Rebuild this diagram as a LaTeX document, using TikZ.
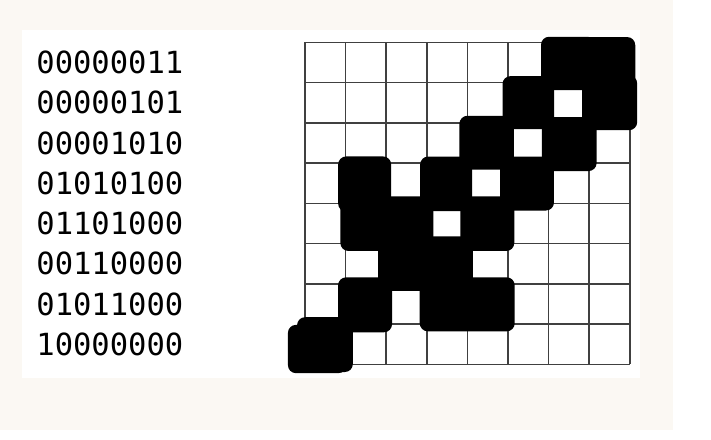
\documentclass[tikz,border=0pt]{standalone}
\usepackage{fontspec}
\usepackage{tikz}
\newfontfamily\bitsfont{DejaVu Sans Mono}
\definecolor{paper}{RGB}{251,248,243}
\tikzset{
  blob/.style={fill=black,rounded corners=8pt},
  bits/.style={anchor=west,inner sep=0pt,font=\bitsfont\fontsize{30.5}{30.5}\selectfont}
}

\begin{document}
\begin{tikzpicture}[x=40.6pt,y=40.25pt]
    \pgfmathsetseed{11}
    \useasboundingbox (-7.512,-1.878) rectangle (10,9.051);
    % paper and card
    \fill[paper] (-7.512,-1.630) rectangle (9.064,9.051);
    \fill[white] (-6.970,-0.340) rectangle (8.251,8.305);
    % rows of the matrix
    \foreach \bits [count=\i from 0] in {00000011,00000101,00001010,01010100,01101000,00110000,01011000,10000000} {
      \node[bits] (row\i) at (-6.62,7.5-\i) {\bits};
    }
    % grid
    \draw[step=1,black!75,line width=1.5pt] (0,0) grid (8,8);
    % scribbled cells (column/row from the top)
    \foreach \c/\r in {6/0,7/0,5/1,7/1,4/2,6/2,1/3,3/3,5/3,1/4,2/4,4/4,2/5,3/5,1/6,3/6,4/6,0/7} {
      \pgfmathsetmacro{\dl}{0.16+0.04*rand}
      \pgfmathsetmacro{\dr}{0.15+0.04*rand}
      \pgfmathsetmacro{\db}{0.17+0.04*rand}
      \pgfmathsetmacro{\dt}{0.15+0.04*rand}
      \fill[blob] (\c-\dl,7-\r-\db) rectangle (\c+1+\dr,8-\r+\dt);
    }
    \fill[blob] (-0.42,-0.22) rectangle (1.02,0.98);
\end{tikzpicture}
\end{document}
